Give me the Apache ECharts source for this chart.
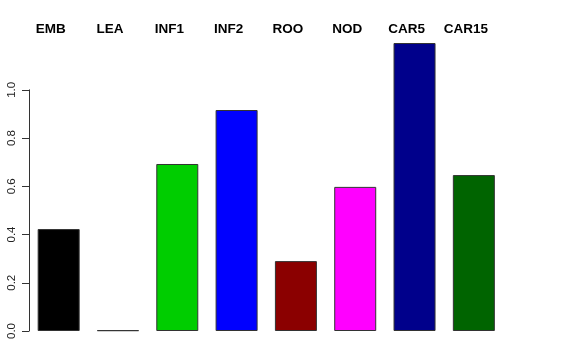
<!DOCTYPE html>
<html><head><meta charset="utf-8">
<script src="https://cdn.jsdelivr.net/npm/echarts@6/dist/echarts.min.js"></script>
<style>html,body{margin:0;padding:0;background:#fff}#c{width:576px;height:360px}</style>
</head><body><div id="c"></div>
<script>
const categories = ["EMB","LEA","INF1","INF2","ROO","NOD","CAR5","CAR15"];
const values = [0.423, 0.003, 0.693, 0.917, 0.290, 0.598, 1.195, 0.647];
const colors = ["#000000","#FF0000","#00CD00","#0000FF","#8B0000","#FF00FF","#00008B","#006400"];
const yTicks = [0.0, 0.2, 0.4, 0.6, 0.8, 1.0];

const chart = echarts.init(document.getElementById('c'), null, {renderer:'canvas'});
chart.setOption({
  animation: false,
  grid: [
    {left: 29, top: 41.8, width: 474.5, bottom: 29},
    {left: 29, top: 89.8, width: 474.5, bottom: 29}
  ],
  xAxis: [
    {type:'category', data: categories, gridIndex:0, position:'top',
     axisLine:{show:false}, axisTick:{show:false},
     axisLabel:{show:true, interval:0, hideOverlap:false, margin: 6, fontFamily:'Liberation Sans, Arial, sans-serif', fontWeight:'bold', fontSize:13.5, color:'#000', padding:[0,16,0,0]}},
    {type:'category', data: categories, gridIndex:1, show:false}
  ],
  yAxis: [
    {type:'value', gridIndex:0, min:0, max:1.2, show:false},
    {type:'value', gridIndex:1, min:0, max:yTicks[yTicks.length-1], interval:0.2,
     axisLine:{show:true, lineStyle:{color:'#333', width:1}},
     axisTick:{show:true, length:7, lineStyle:{color:'#333'}},
     splitLine:{show:false},
     axisLabel:{rotate:90, margin:11, fontFamily:'Liberation Sans, Arial, sans-serif', fontSize:11.5, color:'#222',
       formatter: v => v.toFixed(1)}}
  ],
  series: [{
    type:'bar', xAxisIndex:0, yAxisIndex:0, barWidth:42,
    data: values.map((v,i)=>({value:v, itemStyle:{color:colors[i]}})),
    itemStyle:{borderColor:'#333', borderWidth:1}
  }]
});
</script></body></html>
